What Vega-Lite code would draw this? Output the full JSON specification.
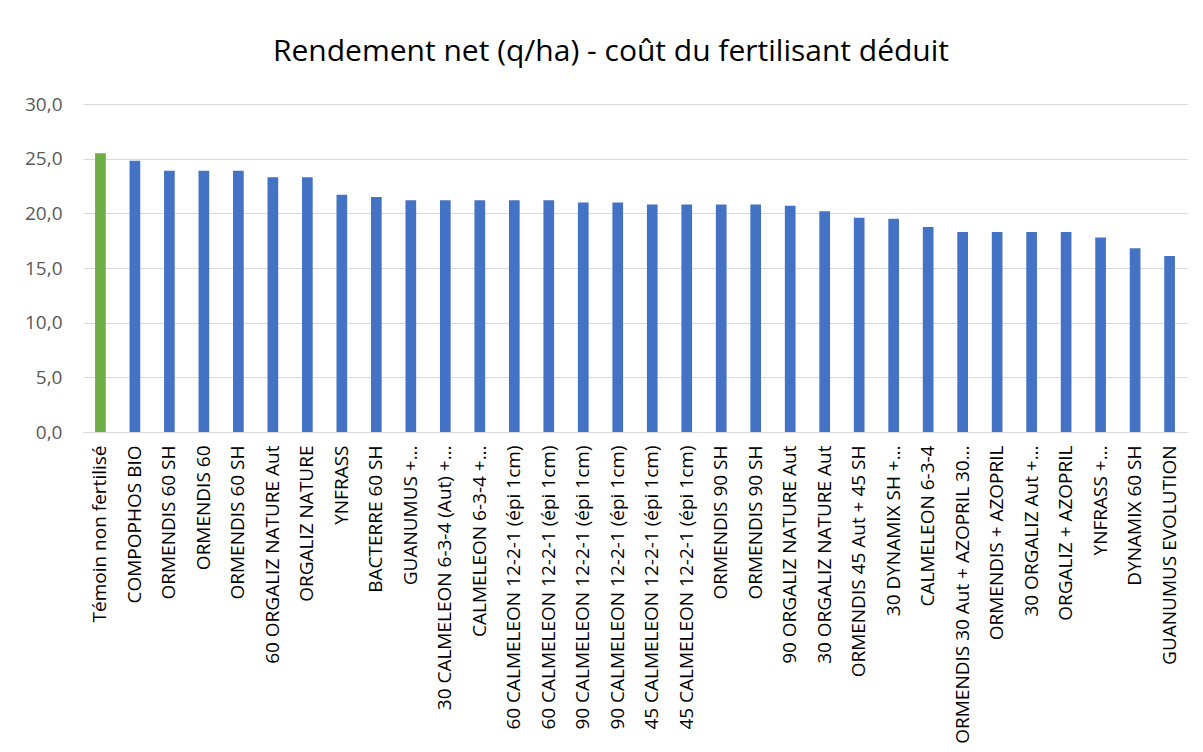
{
  "$schema": "https://vega.github.io/schema/vega-lite/v6.json",
  "autosize": {"type": "none"},
  "padding": {"left": 83, "top": 104, "right": 16, "bottom": 320},
  "width": 1104,
  "height": 328,
  "background": "white",
  "title": {
    "text": "Rendement net (q/ha) - coût du fertilisant déduit",
    "font": "Open Sans",
    "fontSize": 30,
    "fontWeight": "normal",
    "color": "#000000",
    "anchor": "middle",
    "frame": "group",
    "dx": -24,
    "offset": 28
  },
  "data": {
    "values": [
      {"k": "01 Témoin non fertilisé", "v": 25.5, "g": "t"},
      {"k": "02 COMPOPHOS BIO", "v": 24.8, "g": "p"},
      {"k": "03 ORMENDIS 60 SH", "v": 23.9, "g": "p"},
      {"k": "04 ORMENDIS 60", "v": 23.9, "g": "p"},
      {"k": "05 ORMENDIS 60 SH", "v": 23.9, "g": "p"},
      {"k": "06 60 ORGALIZ NATURE Aut", "v": 23.3, "g": "p"},
      {"k": "07 ORGALIZ NATURE", "v": 23.3, "g": "p"},
      {"k": "08 YNFRASS", "v": 21.7, "g": "p"},
      {"k": "09 BACTERRE 60 SH", "v": 21.5, "g": "p"},
      {"k": "10 GUANUMUS +…", "v": 21.2, "g": "p"},
      {"k": "11 30 CALMELEON 6-3-4 (Aut) +…", "v": 21.2, "g": "p"},
      {"k": "12 CALMELEON 6-3-4 +…", "v": 21.2, "g": "p"},
      {"k": "13 60 CALMELEON 12-2-1 (épi 1cm)", "v": 21.2, "g": "p"},
      {"k": "14 60 CALMELEON 12-2-1 (épi 1cm)", "v": 21.2, "g": "p"},
      {"k": "15 90 CALMELEON 12-2-1 (épi 1cm)", "v": 21.0, "g": "p"},
      {"k": "16 90 CALMELEON 12-2-1 (épi 1cm)", "v": 21.0, "g": "p"},
      {"k": "17 45 CALMELEON 12-2-1 (épi 1cm)", "v": 20.8, "g": "p"},
      {"k": "18 45 CALMELEON 12-2-1 (épi 1cm)", "v": 20.8, "g": "p"},
      {"k": "19 ORMENDIS 90 SH", "v": 20.8, "g": "p"},
      {"k": "20 ORMENDIS 90 SH", "v": 20.8, "g": "p"},
      {"k": "21 90 ORGALIZ NATURE Aut", "v": 20.7, "g": "p"},
      {"k": "22 30 ORGALIZ NATURE Aut", "v": 20.2, "g": "p"},
      {"k": "23 ORMENDIS 45 Aut + 45 SH", "v": 19.6, "g": "p"},
      {"k": "24 30 DYNAMIX SH +…", "v": 19.5, "g": "p"},
      {"k": "25 CALMELEON 6-3-4", "v": 18.75, "g": "p"},
      {"k": "26 ORMENDIS 30 Aut + AZOPRIL 30…", "v": 18.3, "g": "p"},
      {"k": "27 ORMENDIS + AZOPRIL", "v": 18.3, "g": "p"},
      {"k": "28 30 ORGALIZ Aut +…", "v": 18.3, "g": "p"},
      {"k": "29 ORGALIZ + AZOPRIL", "v": 18.3, "g": "p"},
      {"k": "30 YNFRASS +…", "v": 17.8, "g": "p"},
      {"k": "31 DYNAMIX 60 SH", "v": 16.8, "g": "p"},
      {"k": "32 GUANUMUS EVOLUTION", "v": 16.1, "g": "p"}
    ]
  },
  "mark": {"type": "bar"},
  "encoding": {
    "x": {
      "field": "k",
      "type": "nominal",
      "sort": "ascending",
      "scale": {"paddingInner": 0.69, "paddingOuter": 0.35},
      "axis": {
        "title": null,
        "labelExpr": "substring(datum.value, 3)",
        "labelAngle": -90,
        "labelAlign": "right",
        "labelBaseline": "middle",
        "labelFont": "Open Sans",
        "labelFontSize": 19,
        "labelColor": "#000000",
        "labelPadding": 13,
        "labelLimit": 0,
        "ticks": false,
        "domainColor": "#D9D9D9",
        "domainWidth": 1,
        "grid": false
      }
    },
    "y": {
      "field": "v",
      "type": "quantitative",
      "scale": {"domain": [0, 30], "nice": false},
      "axis": {
        "title": null,
        "values": [0, 5, 10, 15, 20, 25, 30],
        "labelExpr": "replace(format(datum.value, '.1f'), '.', ',')",
        "labelFont": "Open Sans",
        "labelFontSize": 19,
        "labelColor": "#595959",
        "labelPadding": 21,
        "ticks": false,
        "domain": false,
        "gridColor": "#D9D9D9",
        "gridWidth": 1
      }
    },
    "color": {
      "field": "g",
      "type": "nominal",
      "scale": {"domain": ["t", "p"], "range": ["#70AD47", "#4472C4"]},
      "legend": null
    }
  },
  "config": {"view": {"stroke": null}}
}
